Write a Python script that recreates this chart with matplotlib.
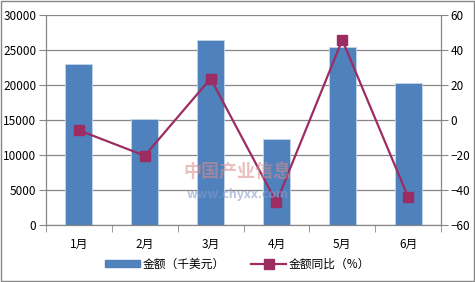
import matplotlib.pyplot as plt
import numpy as np
from matplotlib.lines import Line2D
from matplotlib.patches import Patch

plt.rcParams['font.family'] = ['Noto Sans CJK SC', 'DejaVu Sans']

# data
months = ["1月", "2月", "3月", "4月", "5月", "6月"]
amount = [22900, 15100, 26400, 12300, 25300, 20300]   # 千美元
yoy = [-6.0, -20.5, 23.5, -47.0, 45.5, -44.0]          # %

bar_color = "#4F81BD"
line_color = "#9B2D62"
grid_color = "#868686"

fig = plt.figure(figsize=(4.75, 2.82), dpi=100)
ax = fig.add_axes([46 / 475, 1 - 225 / 282, 395 / 475, 210.5 / 282])
ax2 = ax.twinx()

x = np.arange(len(months))
ax.bar(x, amount, width=0.41, color=bar_color, edgecolor="#C5D5EA", linewidth=0.6, zorder=2)
ax2.plot(x, yoy, color=line_color, linewidth=1.6, marker="s", markersize=7, zorder=3)

ax.set_xlim(-0.5, len(months) - 0.5)
ax.set_ylim(0, 30000)
ax.set_yticks(range(0, 30001, 5000))
ax2.set_ylim(-60, 60)
ax2.set_yticks(range(-60, 61, 20))

ax.yaxis.grid(True, color=grid_color, linewidth=0.9, zorder=0)
ax.set_axisbelow(True)

ax.set_xticks(x)
ax.set_xticklabels(months)
ax.set_xticks(np.arange(-0.5, len(months)), minor=True)
ax.tick_params(axis="x", which="major", length=0, pad=9, labelsize=8.5)
ax.tick_params(axis="x", which="minor", length=5, color=grid_color, direction="out")
ax.tick_params(axis="y", length=5, color=grid_color, labelsize=8.5, pad=2)
ax2.tick_params(axis="y", length=5, color=grid_color, labelsize=8.5, pad=2)

for a in (ax, ax2):
    a.spines["top"].set_visible(False)
    a.spines["left"].set_color(grid_color)
    a.spines["right"].set_color(grid_color)
    a.spines["bottom"].set_color(grid_color)

# watermark
fig.text(0.5, 0.39, "中国产业信息", color="#D98C8C", alpha=0.55, fontsize=13,
         fontweight="bold", ha="center", va="center")
fig.text(0.5, 0.31, "www.chyxx.com", color="#8899CC", alpha=0.6, fontsize=9,
         fontweight="bold", ha="center", va="center")

handles = [
    Patch(facecolor=bar_color, edgecolor=bar_color),
    Line2D([0], [0], color=line_color, linewidth=1.6, marker="s", markersize=7),
]
fig.legend(handles, ["金额（千美元）", "金额同比（%）"], loc="center",
           bbox_to_anchor=(0.5, 1 - 264 / 282), ncol=2, frameon=False,
           fontsize=8.5, handlelength=3.0, handleheight=0.6, columnspacing=2.2,
           handletextpad=0.2)

# outer border
fig.patches.append(plt.Rectangle((0.003, 0.003), 0.994, 0.994, transform=fig.transFigure,
                                 fill=False, edgecolor=grid_color, linewidth=1.0))

fig.savefig("out.png", dpi=100)
